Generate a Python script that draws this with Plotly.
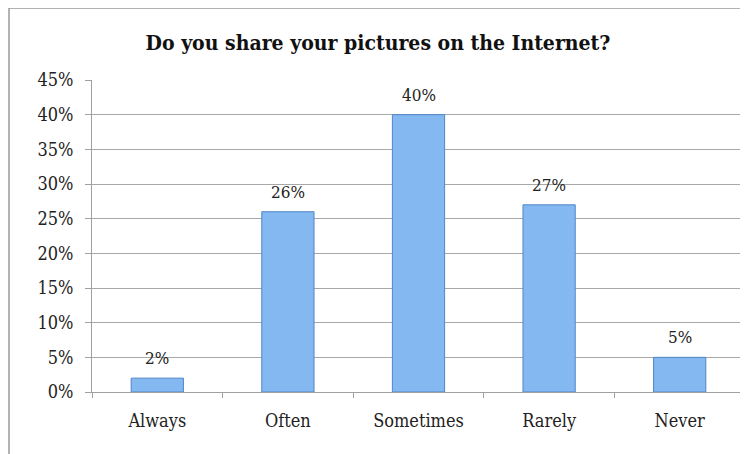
import plotly.graph_objects as go

categories = ["Always", "Often", "Sometimes", "Rarely", "Never"]
values = [2, 26, 40, 27, 5]
y_ticks = [0, 5, 10, 15, 20, 25, 30, 35, 40, 45]
y_tick_labels = [f"{v}%" for v in y_ticks]
title_text = "Do you share your pictures on the Internet?"

OFF = 8  # page body margin
W, H = 748 - OFF, 454 - OFF
L, R, T, B = 92 - OFF, 11 - OFF, 80 - OFF, 62
pw, ph = W - L - R, H - T - B
FONT = "DejaVu Serif Condensed"

fig = go.Figure()
fig.add_trace(go.Bar(
    x=categories, y=values,
    cliponaxis=False,
    marker=dict(color="#84b8f0", line=dict(color="#4f86c8", width=1)),
    width=0.4,
))

annotations = [
    dict(x=c, y=v, xref="x", yref="y", text=f"{v}%", showarrow=False,
         yanchor="bottom", yshift=8,
         font=dict(family=FONT, size=17, color="#222222"))
    for c, v in zip(categories, values)
]

fig.update_layout(
    width=W, height=H,
    margin=dict(l=L, r=R, t=T, b=B),
    paper_bgcolor="white", plot_bgcolor="white",
    showlegend=False,
    annotations=annotations,
    title=dict(text="<b>" + title_text + "</b>", x=(378 - 8 - L) / pw, xref="paper", xanchor="center",
               y=1 - (43 - OFF) / H, yanchor="middle",
               font=dict(family=FONT, size=21, color="#111111")),
    xaxis=dict(
        type="category", tickson="boundaries", ticks="outside", ticklen=5,
        tickcolor="#a0a0a0", showline=True, linecolor="#a0a0a0", linewidth=1,
        showgrid=False, ticklabelstandoff=12,
        tickfont=dict(family=FONT, size=18, color="#222222"),
    ),
    yaxis=dict(
        range=[0, 45], tickvals=y_ticks, ticktext=y_tick_labels,
        ticks="outside", ticklen=6, tickcolor="#a0a0a0",
        showline=True, linecolor="#a0a0a0", linewidth=1,
        showgrid=True, gridcolor="#a8a8a8", gridwidth=1,
        zeroline=False, ticklabelstandoff=8,
        tickfont=dict(family=FONT, size=18, color="#222222"),
    ),
    shapes=[dict(type="rect", xref="paper", yref="paper",
                 x0=(9 - 8 - L) / pw, x1=(W + 20 - L) / pw,
                 y0=-(H + 20 - (H - B)) / ph, y1=1 + T / ph,
                 line=dict(color="#9a9a9a", width=1.5), layer="below")],
)

fig.write_html("out.html")
